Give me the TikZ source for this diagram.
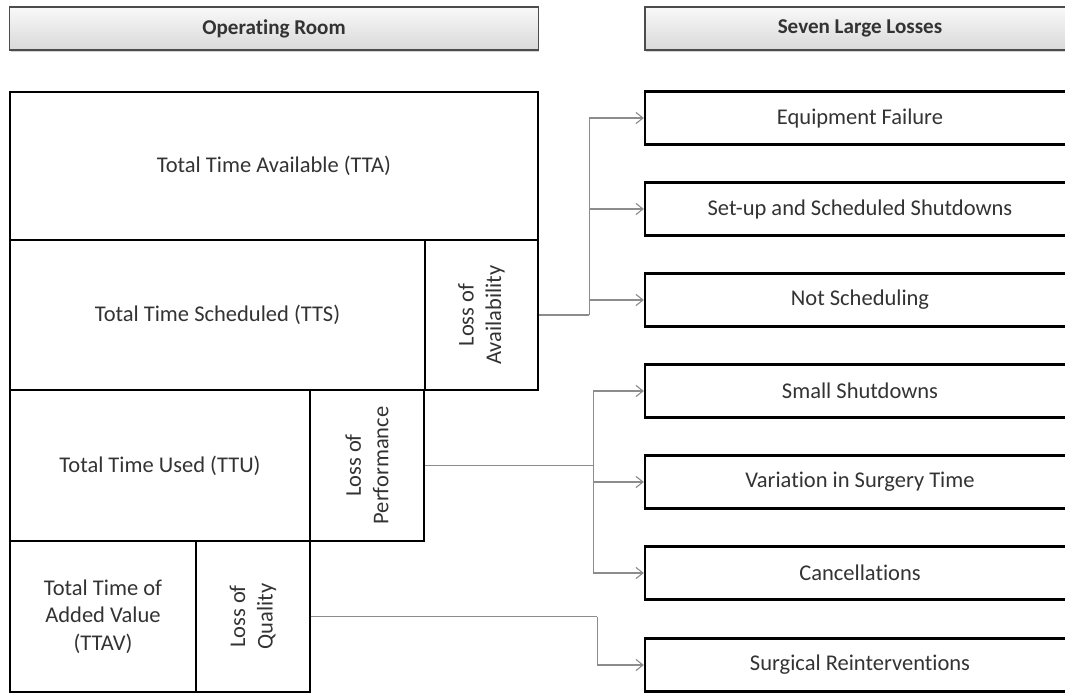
\documentclass[tikz,border=0pt]{standalone}
\usepackage{fontspec}
\setmainfont[Ligatures=NoCommon]{Carlito}
\usetikzlibrary{arrows.meta,shapes,calc,shadows}

\begin{document}
\begin{tikzpicture}[x=0.025cm,y=-0.025cm]
            \tikzset{cell/.style = {draw, line width=1.6pt, rectangle, inner sep=0pt, align=center, text=black!80, font=\fontsize{16}{19.5}\selectfont}}
            \tikzset{lossbox/.style = {cell, minimum width=10.75cm, minimum height=1.325cm}}
            \tikzset{header/.style = {draw=gray!60!black, line width=0.8pt, top color=gray!5, bottom color=gray!30, drop shadow={opacity=0.35,shadow xshift=1pt,shadow yshift=-1.5pt}, minimum height=1.075cm, text=black!80, font=\fontsize{15}{18}\selectfont\bfseries}}
            \tikzset{turned/.style = {rotate=90, align=center, text=black!80, font=\fontsize{16}{19.5}\selectfont}}
            \tikzset{link/.style = {draw=gray!90, line width=0.8pt}}
            \tikzset{arrow/.style = {link, -{Straight Barb[length=5pt,width=8pt]}}}

            \clip (0,0) rectangle (1065,693);

            % headers
            \node[header, minimum width=13.2cm] (room) at (274,28.5) {Operating Room};
            \node[header, minimum width=10.75cm] (seven) at (860,28.5) {Seven Large Losses};

            % time blocks
            \node[cell, minimum width=13.2cm, minimum height=3.7cm] (tta) at (274,166) {Total Time Available (TTA)};
            \node[cell, minimum width=10.375cm, minimum height=3.75cm] (tts) at (217.5,315) {Total Time Scheduled (TTS)};
            \node[cell, minimum width=2.825cm, minimum height=3.75cm] (loa) at (481.5,315) {};
            \node[turned] (loatext) at (loa) {Loss of\\Availability};
            \node[cell, minimum width=7.5cm, minimum height=3.775cm] (ttu) at (160,465.5) {Total Time Used (TTU)};
            \node[cell, minimum width=2.85cm, minimum height=3.775cm] (lop) at (367,465.5) {};
            \node[turned] (loptext) at (lop) {Loss of\\Performance};
            \node[cell, minimum width=4.65cm, minimum height=3.775cm] (ttav) at (103,616.5) {Total Time of\\Added Value\\(TTAV)};
            \node[cell, minimum width=2.85cm, minimum height=3.775cm] (loq) at (253,616.5) {};
            \node[turned] (loqtext) at (loq) {Loss of\\Quality};

            % losses
            \foreach \name/\y/\txt in {r1/118/Equipment Failure, r2/209/Set-up and Scheduled Shutdowns, r3/300/Not Scheduling, r4/391/Small Shutdowns, r5/482/Variation in Surgery Time, r6/573/Cancellations, r7/665/Surgical Reinterventions}
            {
              \node[lossbox] (\name) at (860,\y) {\txt};
            }

            % connectors
            \draw[link] (loa.east) -- ++(50,0) coordinate (ja);
            \foreach \y in {r1,r2,r3} {\draw[arrow] (ja) |- (\y.west);}
            \draw[link] (lop.east) -- ++(168,0) coordinate (jp);
            \foreach \y in {r4,r5,r6} {\draw[arrow] (jp) |- (\y.west);}
            \draw[link] (loq.east) -- ++(286,0) coordinate (jq);
            \foreach \y in {r7} {\draw[arrow] (jq) |- (\y.west);}

          \end{tikzpicture}
\end{document}
